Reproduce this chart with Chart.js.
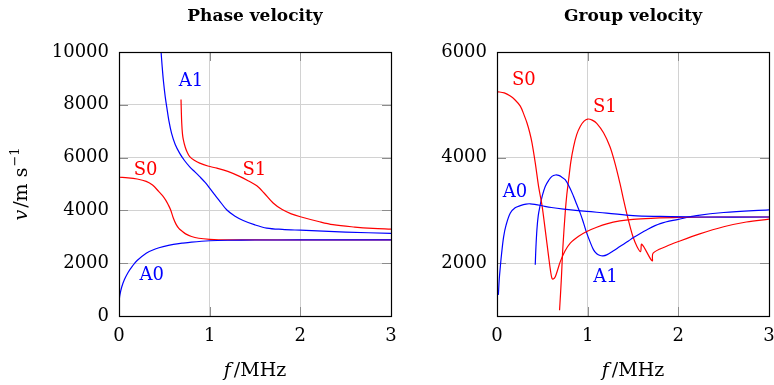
<!DOCTYPE html>
<html>
<head>
<meta charset="utf-8">
<script src="https://cdn.jsdelivr.net/npm/chart.js@4.4.1/dist/chart.umd.min.js"></script>
<style>
  html, body { margin: 0; padding: 0; background: #fff; }
  #wrap { position: relative; width: 774px; height: 385px; }
  #phase { position: absolute; left: 0; top: 0; }
  #group { position: absolute; left: 400px; top: 0; }
</style>
</head>
<body>
<div id="wrap">
  <canvas id="phase" width="400" height="385"></canvas>
  <canvas id="group" width="374" height="385"></canvas>
</div>
<script>
/* Lamb wave dispersion curves: phase and group velocity vs frequency */

const FREQ_TICKS = [0, 1, 2, 3];
const PHASE_TICKS = [0, 2000, 4000, 6000, 8000, 10000];
const GROUP_TICKS = [2000, 4000, 6000];

// [f in MHz, v in m/s]
const phaseA0 = [[0.002,600],[0.01,800],[0.03,1100],[0.06,1380],[0.1,1650],[0.15,1900],[0.2,2100],
  [0.3,2380],[0.4,2540],[0.5,2640],[0.6,2710],[0.7,2760],[0.8,2800],[1.0,2850],[1.2,2870],
  [1.5,2878],[2.0,2880],[3.0,2880]];
const phaseS0 = [[0,5255],[0.1,5235],[0.2,5190],[0.3,5100],[0.37,4960],[0.44,4710],[0.48,4560],
  [0.515,4390],[0.545,4200],[0.57,4015],[0.6,3700],[0.63,3470],[0.66,3320],[0.7,3200],[0.735,3110],
  [0.8,3010],[0.88,2945],[1.0,2900],[1.1,2885],[1.5,2880],[3.0,2880]];
const phaseA1 = [[0.462,10100],[0.475,9500],[0.49,8900],[0.51,8300],[0.526,7930],[0.55,7400],
  [0.58,6920],[0.62,6500],[0.67,6160],[0.72,5900],[0.78,5650],[0.84,5450],[0.89,5280],[0.95,5060],
  [1.0,4840],[1.05,4620],[1.1,4400],[1.19,4015],[1.28,3780],[1.37,3620],[1.5,3450],[1.63,3330],
  [1.8,3280],[2.0,3250],[2.5,3180],[3.0,3130]];
const phaseS1 = [[0.684,8200],[0.687,7800],[0.692,7300],[0.70,6900],[0.71,6670],[0.73,6400],
  [0.75,6220],[0.78,6040],[0.83,5900],[0.89,5790],[0.98,5680],[1.08,5600],[1.2,5480],[1.33,5290],
  [1.43,5110],[1.52,4930],[1.6,4660],[1.7,4280],[1.8,4030],[1.9,3870],[2.0,3760],[2.2,3580],
  [2.36,3460],[2.6,3370],[2.8,3320],[3.0,3290]];

const groupA0 = [[0.015,1400],[0.025,1700],[0.037,1940],[0.05,2170],[0.073,2500],[0.1,2720],
  [0.147,2950],[0.2,3050],[0.257,3090],[0.32,3120],[0.367,3125],[0.43,3110],[0.496,3088],
  [0.6,3055],[0.735,3025],[0.99,2980],[1.21,2950],[1.5,2900],[1.8,2885],[2.2,2875],[3.0,2875]];
const groupS0 = [[0,5250],[0.08,5225],[0.147,5165],[0.2,5090],[0.257,4975],[0.3,4800],[0.33,4660],
  [0.36,4480],[0.386,4280],[0.422,3900],[0.459,3450],[0.496,3100],[0.532,2630],[0.569,2130],
  [0.59,1860],[0.606,1715],[0.62,1700],[0.643,1745],[0.67,1880],[0.698,2030],[0.75,2230],
  [0.808,2380],[0.9,2510],[0.99,2600],[1.1,2680],[1.21,2745],[1.355,2800],[1.5,2830],[1.7,2850],
  [2.0,2868],[2.5,2875],[3.0,2875]];
const groupA1 = [[0.422,1970],[0.428,2250],[0.44,2630],[0.455,2900],[0.477,3107],[0.5,3280],
  [0.532,3454],[0.57,3570],[0.606,3644],[0.645,3670],[0.68,3663],[0.715,3630],[0.752,3581],
  [0.8,3440],[0.845,3264],[0.88,3110],[0.918,2949],[0.955,2760],[0.99,2569],[1.03,2390],
  [1.065,2253],[1.1,2180],[1.138,2145],[1.17,2140],[1.21,2158],[1.28,2230],[1.355,2315],
  [1.45,2420],[1.5,2480],[1.65,2630],[1.8,2750],[2.0,2830],[2.2,2900],[2.5,2960],[3.0,3010]];
const groupS1 = [[0.69,1110],[0.70,1400],[0.709,1680],[0.727,2310],[0.752,2950],[0.77,3300],
  [0.79,3580],[0.815,3930],[0.845,4210],[0.88,4440],[0.918,4590],[0.96,4690],[1.0,4730],
  [1.05,4710],[1.1,4650],[1.175,4470],[1.245,4210],[1.3,3900],[1.355,3520],[1.4,3170],
  [1.43,2950],[1.47,2680],[1.5,2500],[1.54,2330],[1.583,2220],[1.597,2360],[1.711,2044],
  [1.722,2190],[1.87,2320],[2.0,2410],[2.236,2556],[2.5,2690],[2.75,2780],[3.0,2835]];

// mode name labels: [text, f, v, colour]
const phaseLabels = [["A1",0.794,8940,"blue"],["S0",0.294,5606,"red"],["S1",1.492,5606,"red"],["A0",0.361,1591,"blue"]];
const groupLabels = [["S0",0.297,5498,"red"],["S1",1.19,4986,"red"],["A0",0.198,3378,"blue"],["A1",1.197,1772,"blue"]];

const RED = "#ff0000";
const BLUE = "#0000ff";
const SERIF = "'DejaVu Serif', serif";

function series(points, color){
  return {
    data: points.map(([f, v]) => ({ x: f, y: v })),
    borderColor: color,
    borderWidth: 1.2,
    pointRadius: 0,
    fill: false,
    tension: 0.35
  };
}

// draws a row of text pieces with different fonts, centred on cx
function drawRuns(ctx, runs, cx, y){
  let total = 0;
  runs.forEach(r => { ctx.font = r.font; r.w = ctx.measureText(r.text).width; total += r.w + (r.gap || 0); });
  let x = cx - total / 2;
  ctx.textAlign = "left";
  ctx.textBaseline = "alphabetic";
  runs.forEach(r => {
    ctx.font = r.font;
    ctx.fillText(r.text, x, y + (r.dy || 0));
    x += r.w + (r.gap || 0);
  });
}

const decorations = {
  id: "decorations",
  beforeDatasetsDraw(chart){
    // short inner tick marks on all four sides
    const { ctx, chartArea: a, scales: { x, y } } = chart;
    const len = 9;
    ctx.save();
    ctx.strokeStyle = "#8c8c8c";
    ctx.lineWidth = 1;
    ctx.beginPath();
    x.ticks.forEach(t => {
      const px = Math.round(x.getPixelForValue(t.value)) + 0.5;
      ctx.moveTo(px, a.bottom); ctx.lineTo(px, a.bottom - len);
      ctx.moveTo(px, a.top); ctx.lineTo(px, a.top + len);
    });
    y.ticks.forEach(t => {
      const py = Math.round(y.getPixelForValue(t.value)) + 0.5;
      ctx.moveTo(a.left, py); ctx.lineTo(a.left + len, py);
      ctx.moveTo(a.right, py); ctx.lineTo(a.right - len, py);
    });
    ctx.stroke();
    ctx.restore();
  },
  afterDatasetsDraw(chart, args, opts){
    const { ctx, chartArea: a, scales: { x, y } } = chart;
    ctx.save();
    ctx.strokeStyle = "#000";
    ctx.lineWidth = 1.2;
    ctx.strokeRect(Math.round(a.left) + 0.5, Math.round(a.top) + 0.5,
      Math.round(a.right - a.left), Math.round(a.bottom - a.top));

    ctx.font = "18px " + SERIF;
    ctx.textAlign = "center";
    ctx.textBaseline = "alphabetic";
    opts.labels.forEach(([txt, f, v, c]) => {
      ctx.fillStyle = c === "red" ? RED : BLUE;
      ctx.fillText(txt, x.getPixelForValue(f), y.getPixelForValue(v) + 6.5);
    });

    ctx.fillStyle = "#000";
    const cx = (a.left + a.right) / 2;
    ctx.font = "bold 17px " + SERIF;
    ctx.fillText(opts.title, cx, 21);

    drawRuns(ctx, [
      { text: "f", font: "italic 19px " + SERIF, gap: 3 },
      { text: "/MHz", font: "19px " + SERIF }
    ], cx, 376);

    if (opts.yTitle){
      ctx.translate(27, (a.top + a.bottom) / 2);
      ctx.rotate(-Math.PI / 2);
      drawRuns(ctx, [
        { text: "v", font: "italic 19px " + SERIF, gap: 2 },
        { text: "/m s", font: "19px " + SERIF, gap: 1 },
        { text: "\u22121", font: "13px " + SERIF, dy: -8 }
      ], 0, 0);
    }
    ctx.restore();
  }
};

function axis(min, max, ticks, size, pad, isX){
  return {
    type: "linear",
    min, max,
    afterBuildTicks: s => { s.ticks = ticks.map(v => ({ value: v })); },
    afterFit: s => {
      if (isX) s.height = size; else s.width = size;
      // the plot box is sized by hand, so no room is kept for overhanging labels
      s.paddingLeft = s.paddingRight = s.paddingTop = s.paddingBottom = 0;
    },
    grid: { color: "#d2d2d2", lineWidth: 1, drawTicks: false },
    border: { display: false },
    ticks: {
      padding: pad,
      color: "#000",
      font: { family: SERIF, size: 18 },
      callback: v => String(v)
    }
  };
}

function makeChart(id, datasets, yMin, yMax, yTicks, yWidth, rightPad, opts){
  return new Chart(document.getElementById(id), {
    type: "line",
    data: { datasets },
    plugins: [decorations],
    options: {
      responsive: false,
      animation: false,
      events: [],
      layout: { autoPadding: false, padding: { top: 52, right: rightPad, left: 0, bottom: 0 } },
      plugins: {
        legend: { display: false },
        tooltip: { enabled: false },
        decorations: opts
      },
      scales: {
        x: axis(0, 3, FREQ_TICKS, 69, 10, true),
        y: axis(yMin, yMax, yTicks, yWidth, 10, false)
      }
    }
  });
}

makeChart("phase",
  [series(phaseA0, BLUE), series(phaseS0, RED), series(phaseA1, BLUE), series(phaseS1, RED)],
  0, 10000, PHASE_TICKS, 119, 9,
  { title: "Phase velocity", labels: phaseLabels, yTitle: true });

makeChart("group",
  [series(groupA0, BLUE), series(groupS0, RED), series(groupA1, BLUE), series(groupS1, RED)],
  1000, 6000, GROUP_TICKS, 97, 5,
  { title: "Group velocity", labels: groupLabels, yTitle: false });
</script>
</body>
</html>
